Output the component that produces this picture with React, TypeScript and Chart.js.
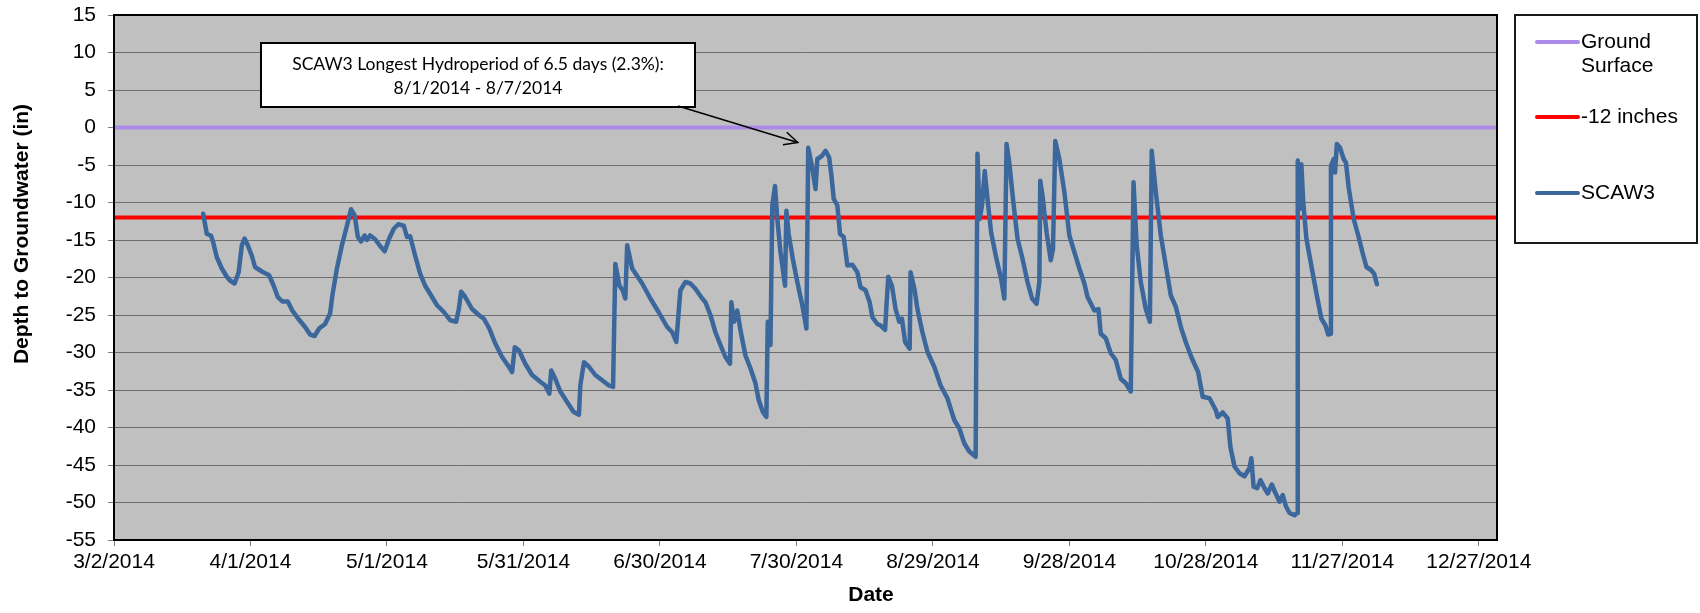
import React, { useEffect, useRef } from 'react';
import { Chart, registerables } from 'chart.js';

Chart.register(...registerables);

// ---------- DATA ----------
const seriesNames = ['Ground Surface', '-12 inches', 'SCAW3'];
const seriesColors = ['#AB8AE8', '#FF0000', '#3B679C'];

// x values are days since 3/2/2014
const groundDays = [0, 304];
const groundValues = [0, 0];
const thresholdDays = [0, 304];
const thresholdValues = [-12, -12];

const scawDays = [
  19.6, 20.4, 21.3, 21.8, 22.6, 23.7, 24.8, 25.5, 26.5, 27.4, 28.1, 28.7, 29.4, 30.3, 31.0, 32.5, 34.1, 35.1, 36.0, 37.0,
  38.2, 39.2, 40.5, 42.0, 43.1, 44.1, 45.1, 46.4, 47.5, 48.0, 49.0, 50.1, 51.2, 52.1, 52.9, 53.6, 54.3, 55.1, 55.6, 56.3,
  57.4, 58.5, 59.5, 60.5, 61.5, 62.5, 63.7, 64.4, 65.1, 66.2, 67.3, 68.4, 69.9, 71.0, 72.5, 73.9, 75.2, 75.8, 76.3, 77.2,
  78.7, 80.2, 81.3, 82.5, 83.8, 85.3, 86.8, 87.5, 88.1, 89.0, 90.4, 91.9, 93.7, 94.8, 95.7, 96.1, 97.0, 98.1, 99.6, 101.0,
  102.2, 102.5, 103.3, 104.4, 105.8, 107.3, 108.8, 109.7, 110.2, 111.1, 111.8, 112.4, 112.8, 113.9, 116.1, 117.9, 119.7, 121.6, 122.7, 123.6,
  124.0, 124.5, 125.6, 126.7, 127.8, 129.3, 130.0, 131.1, 132.2, 133.3, 134.4, 135.4, 135.7, 136.3, 137.0, 137.7, 138.8, 139.9, 141.0, 141.7,
  142.6, 143.4, 143.7, 144.3, 144.7, 145.3, 145.8, 146.5, 147.5, 147.8, 148.3, 149.2, 150.2, 151.3, 152.2, 152.6, 153.4, 154.2, 154.6, 155.6,
  156.4, 157.2, 157.7, 158.2, 159.0, 159.6, 160.4, 161.2, 162.3, 163.4, 164.1, 165.2, 166.1, 166.7, 167.8, 168.5, 169.5, 169.8, 170.2, 171.0,
  171.8, 172.6, 173.2, 173.9, 174.9, 175.1, 176.0, 176.6, 177.7, 178.8, 180.3, 181.7, 183.2, 184.7, 185.8, 186.9, 188.0, 189.4, 189.8, 190.3,
  190.8, 191.4, 192.0, 192.8, 193.9, 195.0, 195.7, 196.2, 196.8, 197.6, 198.6, 199.7, 200.8, 201.8, 202.8, 203.4, 203.6, 204.1, 205.0, 205.9,
  206.4, 206.9, 207.8, 208.9, 210.0, 211.1, 212.2, 213.3, 214.0, 215.5, 216.4, 216.9, 218.0, 219.1, 220.2, 221.3, 222.4, 223.5, 224.1, 224.8,
  225.7, 226.8, 227.7, 228.1, 229.0, 230.1, 231.2, 232.3, 233.4, 234.6, 235.7, 236.8, 238.3, 239.3, 240.8, 242.2, 242.6, 243.7, 244.8, 245.4,
  246.3, 247.4, 248.5, 249.6, 250.0, 250.5, 251.3, 252.0, 252.9, 253.6, 254.5, 255.2, 256.2, 256.9, 257.6, 258.4, 259.5, 260.1, 260.2, 260.6,
  261.0, 261.4, 262.1, 263.3, 264.4, 265.4, 266.3, 266.9, 267.4, 267.5, 268.1, 268.4, 268.8, 269.5, 270.3, 270.8, 271.4, 272.5, 273.5, 274.4,
  275.3, 276.3, 277.0, 277.6,
];
const scawValues = [
  -11.5, -14.2, -14.4, -15.3, -17.3, -18.8, -19.9, -20.4, -20.8, -19.3, -15.7, -14.8, -15.7, -17.1, -18.6, -19.2, -19.7, -21.1, -22.6, -23.2,
  -23.2, -24.4, -25.5, -26.6, -27.6, -27.8, -26.8, -26.2, -24.8, -22.4, -18.8, -15.7, -13.1, -10.9, -11.7, -14.6, -15.2, -14.4, -15.0, -14.4,
  -14.9, -15.8, -16.5, -14.8, -13.5, -12.9, -13.1, -14.6, -14.5, -17.1, -19.5, -21.1, -22.6, -23.7, -24.6, -25.7, -25.9, -24.2, -21.9, -22.6,
  -24.2, -25.0, -25.5, -26.8, -28.8, -30.6, -31.9, -32.6, -29.3, -29.7, -31.5, -33.0, -33.9, -34.4, -35.5, -32.4, -33.5, -35.2, -36.6, -37.9,
  -38.3, -34.4, -31.3, -31.9, -33.0, -33.7, -34.4, -34.6, -18.2, -21.1, -21.7, -22.8, -15.7, -18.8, -20.8, -22.8, -24.6, -26.6, -27.3, -28.6,
  -25.5, -21.7, -20.6, -20.8, -21.5, -22.8, -23.3, -25.0, -27.3, -29.0, -30.6, -31.5, -23.3, -25.9, -24.4, -27.0, -30.4, -32.1, -34.1, -36.3,
  -37.9, -38.6, -25.9, -29.0, -10.4, -7.8, -12.2, -16.6, -21.1, -11.1, -14.2, -17.5, -20.6, -23.7, -26.8, -2.7, -5.1, -8.2, -4.2, -3.8,
  -3.1, -4.0, -6.4, -9.5, -10.4, -14.2, -14.6, -18.4, -18.3, -19.3, -21.3, -21.7, -23.3, -25.3, -26.2, -26.4, -27.0, -23.7, -19.9, -21.1,
  -24.2, -25.9, -25.5, -28.6, -29.5, -19.3, -21.7, -24.2, -27.3, -29.9, -31.9, -34.4, -36.1, -39.0, -40.1, -42.1, -43.2, -43.9, -3.5, -12.2,
  -10.4, -5.8, -9.5, -14.0, -17.3, -20.2, -22.8, -2.2, -4.7, -9.5, -14.8, -17.5, -20.6, -22.8, -23.5, -20.6, -7.1, -9.1, -14.0, -17.7,
  -16.2, -1.8, -4.2, -8.6, -14.4, -16.6, -18.8, -20.8, -22.6, -24.4, -24.2, -27.5, -28.1, -30.1, -31.0, -33.5, -34.1, -35.2, -7.3, -15.7,
  -20.6, -24.2, -25.9, -3.1, -8.6, -14.4, -18.4, -22.4, -23.9, -26.8, -28.8, -30.6, -32.6, -35.9, -36.1, -37.7, -38.6, -38.0, -38.8, -42.6,
  -45.2, -46.1, -46.5, -45.4, -44.1, -47.9, -48.1, -47.0, -48.1, -48.8, -47.6, -48.6, -49.9, -49.0, -50.5, -51.4, -51.7, -51.4, -4.4, -10.9,
  -4.9, -9.9, -14.8, -18.8, -22.4, -25.5, -26.4, -27.6, -27.5, -5.1, -4.2, -6.0, -2.2, -2.7, -4.2, -4.7, -8.0, -12.2, -14.4, -16.6,
  -18.6, -19.0, -19.5, -20.9,
];

const xTickDays = [0, 30, 60, 90, 120, 150, 180, 210, 240, 270, 300];
const xTickLabels = [
  '3/2/2014', '4/1/2014', '5/1/2014', '5/31/2014', '6/30/2014', '7/30/2014',
  '8/29/2014', '9/28/2014', '10/28/2014', '11/27/2014', '12/27/2014',
];
const xMin = 0;
const xMax = 304;
const yMin = -55;
const yMax = 15;
const yStep = 5;

const xTitle = 'Date';
const yTitle = 'Depth to Groundwater (in)';
const annotationLines = ['SCAW3 Longest Hydroperiod of 6.5 days (2.3%):', '8/1/2014 - 8/7/2014'];
const arrowTipDay = 150.3;
const arrowTipValue = -2.0;

// ---------- STYLE ----------
const FONT = "'Liberation Sans', Arial, sans-serif";
const FS = 21;

const toPoints = (xs: number[], ys: number[]) => xs.map((x, i) => ({ x, y: ys[i] }));

const decorPlugin = {
  id: 'decor',
  beforeDraw(chart: any) {
    const { ctx, chartArea } = chart;
    ctx.save();
    ctx.fillStyle = '#ffffff';
    ctx.fillRect(0, 0, chart.width, chart.height);
    ctx.fillStyle = '#C0C0C0';
    ctx.fillRect(chartArea.left, chartArea.top, chartArea.right - chartArea.left, chartArea.bottom - chartArea.top);
    ctx.restore();
  },
  afterDraw(chart: any) {
    const { ctx, chartArea } = chart;
    const xs = chart.scales.x;
    const ys = chart.scales.y;
    ctx.save();
    // plot border
    ctx.strokeStyle = '#000';
    ctx.lineWidth = 2;
    ctx.strokeRect(chartArea.left, chartArea.top, chartArea.right - chartArea.left, chartArea.bottom - chartArea.top);

    // axis titles
    ctx.fillStyle = '#000';
    ctx.font = `bold ${FS}px ${FONT}`;
    ctx.textAlign = 'center';
    ctx.textBaseline = 'middle';
    ctx.fillText(xTitle, 871, 595);
    ctx.save();
    ctx.translate(22, 234);
    ctx.rotate(-Math.PI / 2);
    ctx.fillText(yTitle, 0, 0);
    ctx.restore();

    // legend
    const lx = 1515, ly = 15, lw = 182, lh = 228;
    ctx.fillStyle = '#fff';
    ctx.fillRect(lx, ly, lw, lh);
    ctx.strokeStyle = '#1a1a1a';
    ctx.lineWidth = 2;
    ctx.strokeRect(lx, ly, lw, lh);
    const itemY = [42, 117, 193];
    ctx.font = `${FS}px ${FONT}`;
    ctx.textAlign = 'left';
    chart.data.datasets.forEach((ds: any, i: number) => {
      const y = itemY[i];
      ctx.strokeStyle = ds.borderColor;
      ctx.lineWidth = 4;
      ctx.lineCap = 'round';
      ctx.beginPath();
      ctx.moveTo(1537, y);
      ctx.lineTo(1578, y);
      ctx.stroke();
      const maxW = 1695 - 1582;
      const words = String(ds.label).split(' ');
      const lines: string[] = [];
      let cur = '';
      words.forEach((w) => {
        const t = cur ? cur + ' ' + w : w;
        if (ctx.measureText(t).width > maxW && cur) {
          lines.push(cur);
          cur = w;
        } else cur = t;
      });
      if (cur) lines.push(cur);
      ctx.fillStyle = '#000';
      lines.forEach((l, k) => ctx.fillText(l, 1581, y + k * 24));
    });

    // annotation box
    const bx = 261, by = 43, bw = 434, bh = 64;
    ctx.fillStyle = '#fff';
    ctx.fillRect(bx, by, bw, bh);
    ctx.strokeStyle = '#000';
    ctx.lineWidth = 2;
    ctx.strokeRect(bx, by, bw, bh);
    ctx.fillStyle = '#000';
    ctx.font = `17.5px Lato, 'Open Sans', sans-serif`;
    ctx.textAlign = 'center';
    ctx.textBaseline = 'middle';
    ctx.fillText(annotationLines[0], bx + bw / 2, 64);
    ctx.fillText(annotationLines[1], bx + bw / 2, 88);

    // arrow
    const tx = xs.getPixelForValue(arrowTipDay);
    const ty = ys.getPixelForValue(arrowTipValue);
    const sx = 678, sy = 106;
    ctx.strokeStyle = '#000';
    ctx.lineWidth = 1.5;
    ctx.lineCap = 'butt';
    ctx.beginPath();
    ctx.moveTo(sx, sy);
    ctx.lineTo(tx, ty);
    ctx.stroke();
    const ang = Math.atan2(ty - sy, tx - sx);
    const L = 15, a = 0.45;
    ctx.beginPath();
    ctx.moveTo(tx - L * Math.cos(ang - a), ty - L * Math.sin(ang - a));
    ctx.lineTo(tx, ty);
    ctx.lineTo(tx - L * Math.cos(ang + a), ty - L * Math.sin(ang + a));
    ctx.stroke();
    ctx.restore();
  },
};

export default function App() {
  const ref = useRef<HTMLCanvasElement | null>(null);
  useEffect(() => {
    const canvas = ref.current!;
    const chart = new Chart(canvas, {
      type: 'line',
      data: {
        datasets: [
          {
            label: seriesNames[0],
            data: toPoints(groundDays, groundValues),
            borderColor: seriesColors[0],
            backgroundColor: seriesColors[0],
            borderWidth: 4,
            pointRadius: 0,
            order: 2,
          },
          {
            label: seriesNames[1],
            data: toPoints(thresholdDays, thresholdValues),
            borderColor: seriesColors[1],
            backgroundColor: seriesColors[1],
            borderWidth: 4,
            pointRadius: 0,
            order: 1,
          },
          {
            label: seriesNames[2],
            data: toPoints(scawDays, scawValues),
            borderColor: seriesColors[2],
            backgroundColor: seriesColors[2],
            borderWidth: 4.5,
            pointRadius: 0,
            borderJoinStyle: 'round',
            borderCapStyle: 'round',
            tension: 0,
            order: 0,
          },
        ],
      },
      options: {
        responsive: false,
        animation: false,
        devicePixelRatio: 1,
        parsing: false,
        layout: { padding: { left: 0, top: 15, right: 203, bottom: 0 } },
        plugins: { legend: { display: false }, tooltip: { enabled: false } },
        scales: {
          x: {
            type: 'linear',
            min: xMin,
            max: xMax,
            afterBuildTicks: (scale: any) => {
              scale.ticks = xTickDays.map((v) => ({ value: v }));
            },
            afterFit: (scale: any) => {
              scale.height = 73;
              scale.paddingLeft = 0;
              scale.paddingRight = 0;
            },
            ticks: {
              autoSkip: false,
              maxRotation: 0,
              padding: 4,
              color: '#000',
              font: { family: FONT, size: FS },
              callback: (_v: any, i: number) => xTickLabels[i],
            },
            grid: { drawOnChartArea: false, drawTicks: true, tickLength: 6, tickColor: '#808080', tickWidth: 1 },
            border: { display: false },
          },
          y: {
            type: 'linear',
            min: yMin,
            max: yMax,
            afterFit: (scale: any) => {
              scale.width = 114;
              scale.paddingTop = 0;
              scale.paddingBottom = 0;
            },
            ticks: {
              stepSize: yStep,
              padding: 12,
              color: '#000',
              font: { family: FONT, size: FS },
            },
            grid: { color: '#6E6E6E', lineWidth: 1, drawTicks: true, tickLength: 6, tickColor: '#808080' },
            border: { display: false },
          },
        },
      },
      plugins: [decorPlugin],
    } as any);
    return () => chart.destroy();
  }, []);
  return (
    <div style={{ position: 'absolute', left: 0, top: 0, width: 1700, height: 613, background: '#fff' }}>
      <canvas ref={ref} width={1700} height={613} style={{ display: 'block', width: 1700, height: 613 }} />
    </div>
  );
}
